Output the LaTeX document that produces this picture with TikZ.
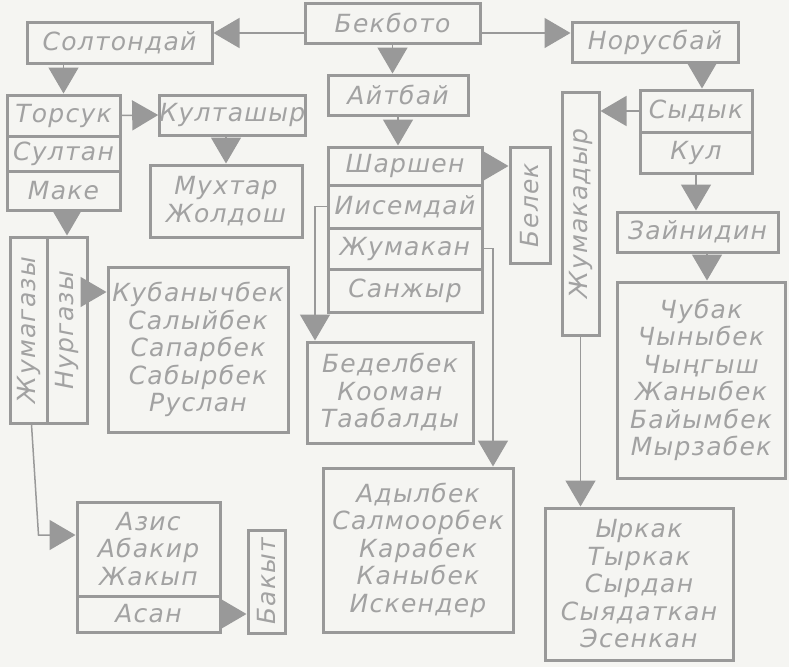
\documentclass[tikz,border=0pt]{standalone}
\usepackage{fontspec}
\setmainfont{DejaVu Sans}
\newfontfamily\namefont[LetterSpace=5]{DejaVu Sans}
\usepackage{graphicx}
\usetikzlibrary{arrows.meta}
\definecolor{bg}{HTML}{F5F5F2}
\definecolor{ln}{HTML}{999999}
\definecolor{tx}{HTML}{A2A2A2}
\tikzset{
  box/.style={draw=ln, line width=3pt, text=tx, inner sep=0pt, align=center,
    font=\namefont\itshape\fontsize{25}{27.5}\selectfont},
  arr/.style={draw=ln, line width=1.5pt, -{Triangle[length=26pt,width=30pt]}},
}
\begin{document}
\begin{tikzpicture}[x=1pt,y=-1pt]
\fill[bg] (0,0) rectangle (789,667);
\useasboundingbox (0,0) rectangle (789,667);

% top row
\node[box, minimum width=175pt, minimum height=40pt] (bek) at (392.5,23) {Бекбото};
\node[box, minimum width=185pt, minimum height=41pt] (solt) at (119.5,42.5) {Солтондай};
\node[box, minimum width=166pt, minimum height=40pt] (nor) at (655,42) {Норусбай};
\node[box, minimum width=140pt, minimum height=40pt] (ait) at (398,95) {Айтбай};

% left branch
\node[box, minimum width=113pt, minimum height=41pt] (tors) at (63.5,115.5) {Торсук};
\node[box, minimum width=113pt, minimum height=35pt] (sult) at (63.5,153.5) {Султан};
\node[box, minimum width=113pt, minimum height=39pt] (make) at (63.5,190.5) {Маке};
\node[box, minimum width=145pt, minimum height=40pt] (kult) at (232.5,115) {Култашыр};
\node[box, minimum width=152pt, minimum height=72pt] (mukh) at (226,201) {Мухтар\\Жолдош};
\node[box, minimum width=37pt, minimum height=186pt] (zhumag) at (28.5,330) {\rotatebox{90}{Жумагазы}};
\node[box, minimum width=40pt, minimum height=186pt] (nurg) at (67,330) {\rotatebox{90}{Нургазы}};
\node[box, minimum width=180pt, minimum height=165pt] (kub) at (198,349.5) {Кубанычбек\\Салыйбек\\Сапарбек\\Сабырбек\\Руслан};
\node[box, minimum width=143pt, minimum height=94pt] (aziz) at (148.5,549) {Азис\\Абакир\\Жакып};
\node[box, minimum width=143pt, minimum height=36pt] (asan) at (148.5,614) {Асан};
\node[box, minimum width=37pt, minimum height=103pt] (bakyt) at (266.5,581.5) {\rotatebox{90}{Бакыт}};

% middle branch
\node[box, minimum width=154pt, minimum height=38pt] (shar) at (405,166) {Шаршен};
\node[box, minimum width=154pt, minimum height=43pt] (iis) at (405,206.5) {Иисемдай};
\node[box, minimum width=154pt, minimum height=41pt] (zhum) at (405,248.5) {Жумакан};
\node[box, minimum width=154pt, minimum height=43pt] (sanzh) at (405,290.5) {Санжыр};
\node[box, minimum width=40pt, minimum height=116pt] (belek) at (530,205) {\rotatebox{90}{Белек}};
\node[box, minimum width=166pt, minimum height=101pt] (bedel) at (390,392.5) {Беделбек\\Кооман\\Таабалды};
\node[box, minimum width=190pt, minimum height=164pt] (adyl) at (418,550) {Адылбек\\Салмоорбек\\Карабек\\Каныбек\\Искендер};

% right branch
\node[box, minimum width=112pt, minimum height=42pt] (syd) at (696,111) {Сыдык};
\node[box, minimum width=112pt, minimum height=41pt] (kul) at (696,152.5) {Кул};
\node[box, minimum width=37pt, minimum height=243pt] (zhumakad) at (580.5,213.5) {\rotatebox{90}{Жумакадыр}};
\node[box, minimum width=161pt, minimum height=40pt] (zain) at (697.5,232) {Зайнидин};
\node[box, minimum width=168pt, minimum height=196pt] (chub) at (701,380) {Чубак\\Чыныбек\\Чыңгыш\\Жаныбек\\Байымбек\\Мырзабек};
\node[box, minimum width=188pt, minimum height=152pt] (yrk) at (639,584) {Ыркак\\Тыркак\\Сырдан\\Сыядаткан\\Эсенкан};

% helper coordinates
\coordinate (bl) at ([yshift=-10pt]bek.west);
\coordinate (br) at ([yshift=-10pt]bek.east);
\coordinate (nk) at ([yshift=38pt]nurg.east);
\coordinate (zs) at ([xshift=3pt]zhumag.south);
\coordinate (ai) at ([yshift=14pt]aziz.west);
\coordinate (zb) at ([xshift=10pt]zhumag.south |- ai);
\coordinate (bt) at ([xshift=-75pt]bedel.north);
\coordinate (at) at ([xshift=75pt]adyl.north);
\coordinate (st) at ([xshift=6pt]syd.north);
\coordinate (ct) at ([xshift=6pt]chub.north);

% connectors
\draw[arr] (bl) -- (bl -| solt.east);
\draw[arr] (br) -- (br -| nor.west);
\draw[arr] (bek.south) -- (bek.south |- ait.north);
\draw[arr] (tors.north |- solt.south) -- (tors.north);
\draw[arr] (tors.east) -- (kult.west);
\draw[arr] (mukh.north |- kult.south) -- (mukh.north);
\draw[arr] (nurg.north |- make.south) -- (nurg.north);
\draw[arr] (nk) -- (nk -| kub.west);
\draw[arr] (zs) -- (zb) -- (ai);
\draw[arr] (asan.east) -- (asan.east -| bakyt.west);
\draw[arr] (ait.south) -- (ait.south |- shar.north);
\draw[arr] (shar.east) -- (shar.east -| belek.west);
\draw[arr] (iis.west) -| (bt);
\draw[arr] (zhum.east) -| (at);
\draw[arr] (st |- nor.south) -- (st);
\draw[arr] (syd.west) -- (syd.west -| zhumakad.east);
\draw[arr] (kul.south) -- (kul.south |- zain.north);
\draw[arr] (ct |- zain.south) -- (ct);
\draw[arr] (zhumakad.south) -- (zhumakad.south |- yrk.north);
\end{tikzpicture}
\end{document}
